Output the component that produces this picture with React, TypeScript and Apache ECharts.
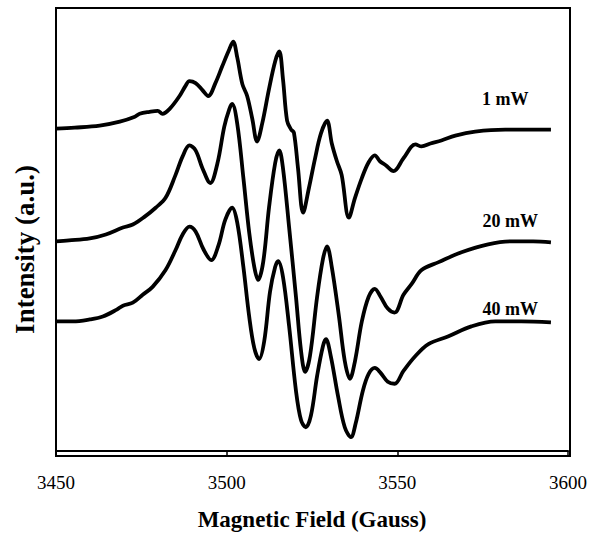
import React, { useEffect, useRef } from "react";
import * as echarts from "echarts";

// Magnetic field (Gauss) and intensity (a.u.) for each microwave power
const field1mW = [3450.0, 3455.5, 3462.8, 3468.7, 3473.1, 3474.5, 3477.4, 3479.8, 3481.2, 3483.3, 3486.2, 3487.9, 3489.1, 3490.9, 3492.9, 3494.6, 3496.7, 3498.7, 3500.5, 3501.9, 3503.1, 3504.6, 3506.0, 3507.5, 3508.9, 3510.4, 3512.4, 3514.2, 3515.4, 3516.5, 3517.7, 3518.9, 3519.7, 3520.9, 3522.4, 3524.1, 3525.9, 3527.6, 3529.4, 3530.8, 3532.3, 3533.7, 3535.8, 3537.6, 3539.6, 3541.6, 3543.4, 3544.9, 3546.6, 3548.9, 3551.8, 3555.3, 3557.1, 3559.7, 3562.9, 3567.0, 3572.8, 3581.6, 3595.0];
const int1mW = [326, 327, 329, 333, 338, 341, 343, 344, 341, 346, 359, 369, 374, 372, 365, 359, 372, 389, 404, 414, 398, 371, 359, 336, 313, 331, 366, 394, 404, 376, 334, 325, 322, 286, 241, 266, 296, 321, 334, 311, 293, 279, 236, 256, 276, 292, 299, 293, 289, 283, 296, 310, 308, 311, 314, 319, 323, 325, 325];

const field20mW = [3450.0, 3453.8, 3459.9, 3464.6, 3469.6, 3472.5, 3476.0, 3479.2, 3482.1, 3485.0, 3487.1, 3489.1, 3490.9, 3492.9, 3495.2, 3497.3, 3499.3, 3500.8, 3501.6, 3503.1, 3504.9, 3506.6, 3508.1, 3509.2, 3510.7, 3512.4, 3514.2, 3515.4, 3516.5, 3518.3, 3520.3, 3521.8, 3523.0, 3524.4, 3526.5, 3528.2, 3529.4, 3530.8, 3532.9, 3534.6, 3536.1, 3537.6, 3539.6, 3541.6, 3543.4, 3545.1, 3547.2, 3549.2, 3551.8, 3554.2, 3557.1, 3562.1, 3568.8, 3576.6, 3583.4, 3589.8, 3595.0];
const int20mW = [212, 213, 215, 219, 226, 229, 237, 246, 256, 279, 298, 309, 304, 286, 271, 291, 328, 346, 351, 331, 276, 221, 186, 173, 191, 246, 291, 304, 286, 226, 156, 101, 80, 96, 156, 194, 207, 186, 136, 91, 73, 91, 131, 156, 164, 156, 144, 140, 158, 169, 183, 191, 201, 209, 212, 212, 211];

const field40mW = [3450.0, 3455.0, 3459.9, 3463.7, 3467.8, 3469.6, 3472.5, 3475.4, 3478.3, 3482.1, 3485.0, 3487.1, 3489.1, 3490.9, 3493.2, 3495.5, 3497.6, 3499.6, 3501.6, 3503.1, 3504.9, 3506.6, 3508.1, 3509.5, 3511.0, 3512.7, 3514.2, 3515.1, 3516.5, 3518.3, 3520.3, 3521.8, 3523.2, 3524.7, 3526.5, 3528.2, 3529.1, 3530.5, 3532.6, 3534.6, 3536.4, 3537.8, 3539.9, 3541.6, 3543.4, 3545.1, 3547.2, 3549.2, 3551.8, 3555.3, 3559.1, 3565.0, 3571.7, 3578.7, 3586.3, 3595.0];
const int40mW = [131, 131, 133, 136, 143, 147, 150, 158, 166, 183, 203, 219, 227, 222, 204, 193, 208, 234, 246, 231, 186, 136, 104, 93, 111, 161, 186, 192, 176, 126, 61, 31, 24, 36, 76, 106, 113, 96, 56, 24, 14, 28, 61, 78, 84, 79, 70, 68, 81, 96, 108, 116, 126, 131, 131, 130];

const seriesNames = ["1 mW", "20 mW", "40 mW"];
// label anchor positions (field, intensity)
const labelField = [3581.6, 3583.1, 3583.1];
const labelIntensity = [356, 233, 144];

const xTicks = [3450, 3500, 3550, 3600];

const FONT = "'Liberation Serif', 'Times New Roman', serif";

const GRID = { left: 56, right: 20, top: 8, bottom: 80 };
const W = 590;
const H = 536;

function zip(xs: number[], ys: number[]) {
  return xs.map((x, i) => [x, ys[i]]);
}

export default function App() {
  const ref = useRef<HTMLDivElement>(null);
  useEffect(() => {
    if (!ref.current) return;
    const chart = echarts.init(ref.current, undefined, { renderer: "svg" });
    const fields = [field1mW, field20mW, field40mW];
    const ints = [int1mW, int20mW, int40mW];
    chart.setOption({
      animation: false,
      backgroundColor: "#fff",
      grid: { ...GRID, containLabel: false },
      graphic: [
        {
          type: "rect",
          z: 10,
          silent: true,
          shape: {
            x: GRID.left,
            y: GRID.top,
            width: W - GRID.left - GRID.right,
            height: H - GRID.top - GRID.bottom,
          },
          style: { fill: "none", stroke: "#000", lineWidth: 2 },
        },
      ],
      xAxis: {
        type: "value",
        min: xTicks[0],
        max: xTicks[xTicks.length - 1],
        interval: 50,
        name: "Magnetic Field (Gauss)",
        nameLocation: "middle",
        nameGap: 57,
        nameTextStyle: { fontFamily: FONT, fontWeight: "bold", fontSize: 23, color: "#000" },
        axisLine: { show: true, onZero: false, lineStyle: { color: "#000", width: 2 } },
        axisTick: { show: true, inside: false, length: 5, lineStyle: { color: "#000", width: 1.5 } },
        axisLabel: {
          fontFamily: FONT,
          fontSize: 19,
          color: "#000",
          margin: 22,
          formatter: (v: number) => String(v),
        },
        splitLine: { show: false },
      },
      yAxis: {
        type: "value",
        min: 0,
        max: 448,
        name: "Intensity (a.u.)",
        nameLocation: "middle",
        nameGap: 18,
        nameTextStyle: {
          fontFamily: FONT,
          fontWeight: "bold",
          fontSize: 27,
          color: "#000",
          padding: [0, 40, 0, 0],
        },
        axisLine: { show: true, onZero: false, lineStyle: { color: "#000", width: 2 } },
        axisTick: { show: false },
        axisLabel: { show: false },
        splitLine: { show: false },
      },
      series: seriesNames.map((name, i) => ({
        name,
        type: "line",
        data: zip(fields[i], ints[i]),
        showSymbol: false,
        smooth: 0.35,
        lineStyle: { color: "#000", width: 3.8 },
        markPoint: {
          symbol: "circle",
          symbolSize: 0,
          data: [{ coord: [labelField[i], labelIntensity[i]] }],
          label: {
            show: true,
            formatter: name,
            position: "inside",
            fontFamily: FONT,
            fontWeight: "bold",
            fontSize: 18,
            color: "#000",
          },
        },
      })),
    });
    return () => chart.dispose();
  }, []);
  return (
    <div
      ref={ref}
      style={{ position: "fixed", left: 0, top: 0, width: W, height: H }}
    />
  );
}
